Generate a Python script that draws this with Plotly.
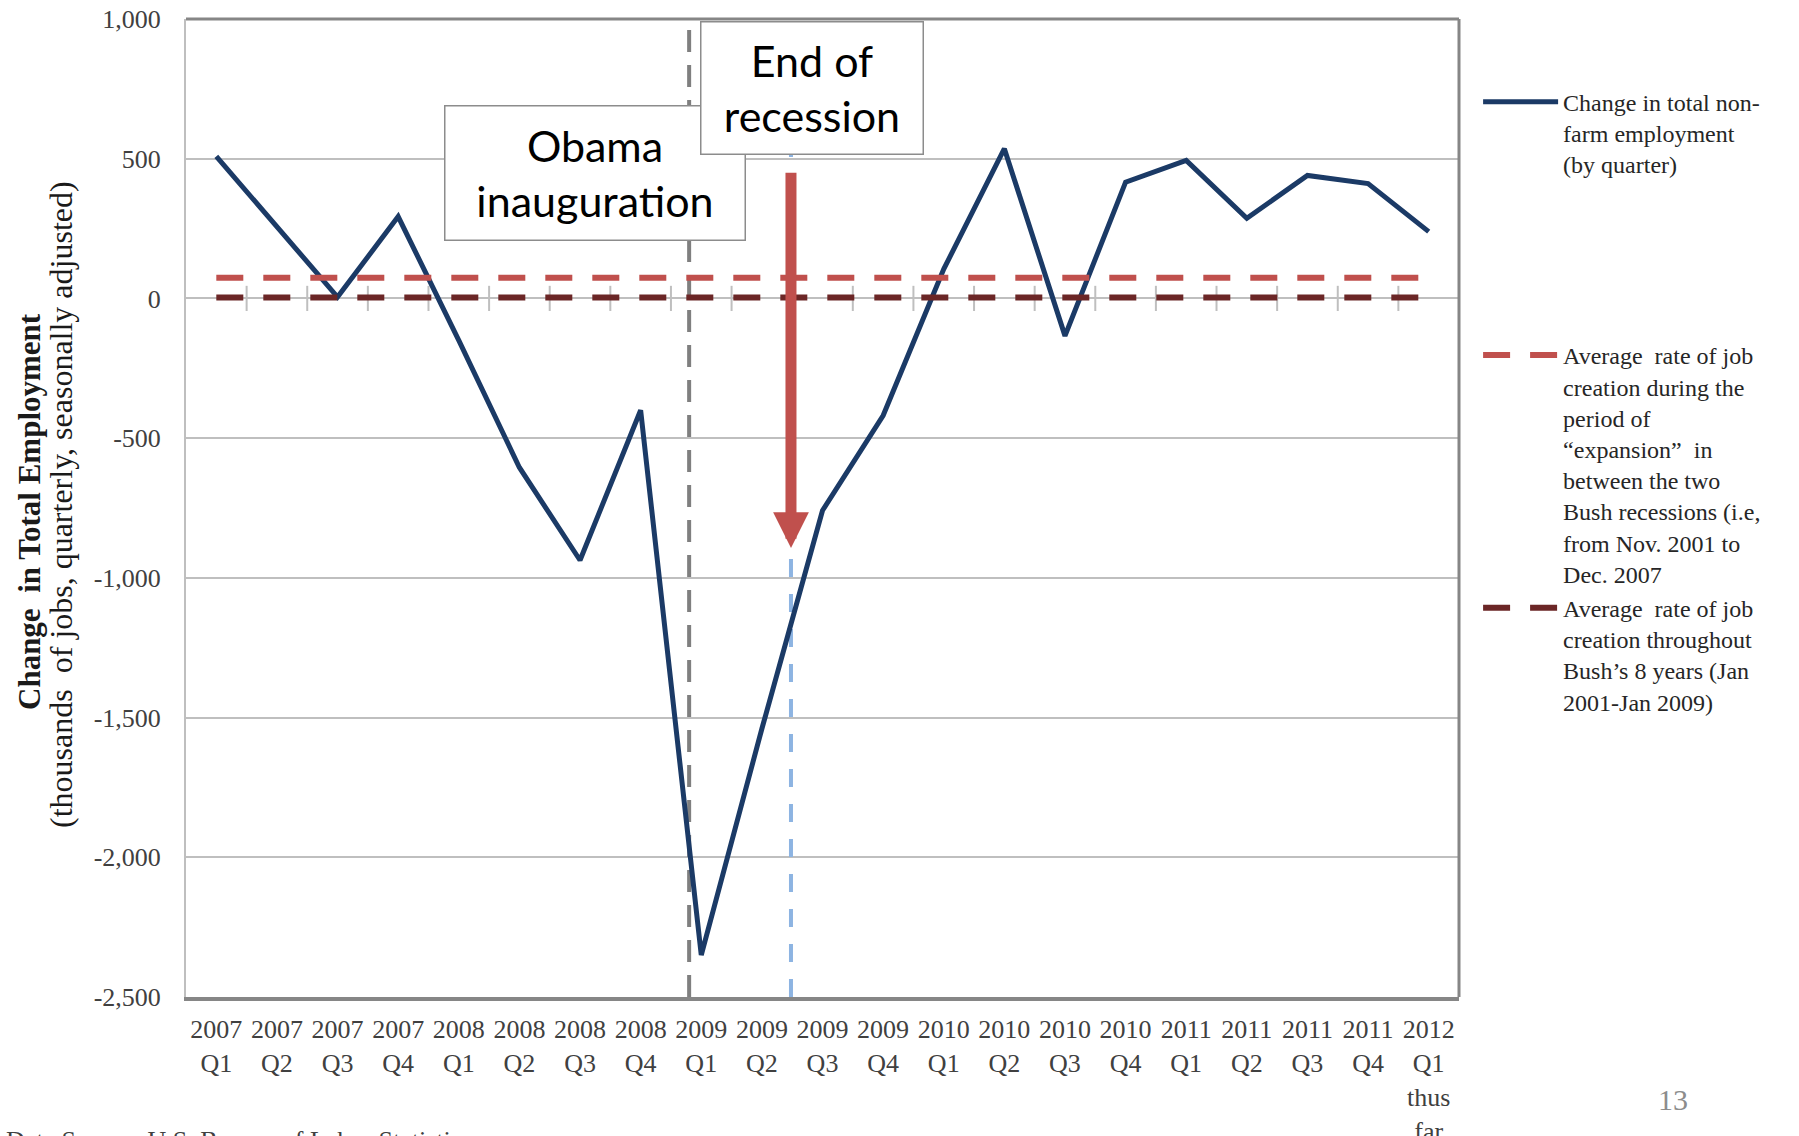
import numpy as np
import plotly.graph_objects as go

# ---------------- data ----------------
x_labels = ["2007<br>Q1", "2007<br>Q2", "2007<br>Q3", "2007<br>Q4",
            "2008<br>Q1", "2008<br>Q2", "2008<br>Q3", "2008<br>Q4",
            "2009<br>Q1", "2009<br>Q2", "2009<br>Q3", "2009<br>Q4",
            "2010<br>Q1", "2010<br>Q2", "2010<br>Q3", "2010<br>Q4",
            "2011<br>Q1", "2011<br>Q2", "2011<br>Q3", "2011<br>Q4",
            "2012<br>Q1<br>thus<br>far"]
jobs_change = [508, 255, 5, 293, -150, -605, -937, -400, -2350, -1540,
               -759, -419, 105, 536, -134, 416, 494, 287, 440, 411, 239]
expansion_avg = 74      # Nov 2001 - Dec 2007 average
bush_avg = 3            # Jan 2001 - Jan 2009 average

y_ticks = [1000, 500, 0, -500, -1000, -1500, -2000, -2500]
y_ticklabels = ["1,000", "500", "0", "-500", "-1,000", "-1,500", "-2,000", "-2,500"]

obama_pos = 7.8          # position of inauguration (in quarter index units)
recession_end_pos = 9.48 # position of end of recession
arrow_from, arrow_to = 455, -893

name_jobs = "Change in total non-<br>farm employment<br>(by quarter)"
name_exp = ("Average  rate of job<br>creation during the<br>period of<br>“expansion”  in<br>"
            "between the two<br>Bush recessions (i.e,<br>from Nov. 2001 to<br>Dec. 2007")
name_bush = "Average  rate of job<br>creation throughout<br>Bush’s 8 years (Jan<br>2001-Jan 2009)"

# ---------------- figure ----------------
idx = np.arange(len(x_labels))
y_min, y_max = min(y_ticks), max(y_ticks)
SERIF = "Liberation Serif"

# plot-area geometry in pixels
W, H = 1799, 1136
ML, MR, MT, MB = 186, 340, 19, 139
PW, PH = W - ML - MR, H - MT - MB


def px_x(px):
    return (px - ML) / PW


def px_y(py):
    return (H - MB - py) / PH


fig = go.Figure()

# vertical event lines
fig.add_trace(go.Scatter(x=[obama_pos, obama_pos], y=[y_min, y_max], mode="lines",
                         line=dict(color="#7F7F7F", width=4, dash="22px,13px"),
                         showlegend=False, hoverinfo="skip"))
fig.add_trace(go.Scatter(x=[recession_end_pos, recession_end_pos], y=[y_min, y_max], mode="lines",
                         line=dict(color="#8DB4E2", width=4, dash="18px,17px"),
                         showlegend=False, hoverinfo="skip"))
# small tick marks along the zero line (category boundaries)
fig.add_trace(go.Scatter(x=idx[:-1] + 0.5, y=[0] * (len(idx) - 1), mode="markers",
                         marker=dict(symbol="line-ns", size=18, line=dict(width=2, color="#BFBFBF")),
                         showlegend=False, hoverinfo="skip"))

# main series
fig.add_trace(go.Scatter(x=idx, y=jobs_change, mode="lines", name=name_jobs,
                         line=dict(color="#1B3A66", width=5), legend="legend"))
fig.add_trace(go.Scatter(x=idx, y=[expansion_avg] * len(idx), mode="lines", name=name_exp,
                         line=dict(color="#C0504D", width=6, dash="27px,20px"), legend="legend2"))
fig.add_trace(go.Scatter(x=idx, y=[bush_avg] * len(idx), mode="lines", name=name_bush,
                         line=dict(color="#6B2626", width=6, dash="27px,20px"), legend="legend2"))

tickfont = dict(family=SERIF, size=26, color="#404040")
legfont = dict(family=SERIF, size=24, color="#262626")

fig.update_layout(
    width=W, height=H,
    margin=dict(l=ML, r=MR, t=MT, b=MB, autoexpand=False),
    paper_bgcolor="white", plot_bgcolor="white",
    xaxis=dict(range=[-0.5, len(idx) - 0.5], tickvals=idx.tolist(), ticktext=x_labels,
               showgrid=False, zeroline=False, showline=True, linecolor="#868686", linewidth=4,
               ticks="", tickfont=tickfont, ticklabelstandoff=6, automargin=False, fixedrange=True),
    yaxis=dict(range=[y_min, y_max], tickvals=y_ticks, ticktext=y_ticklabels,
               showgrid=True, gridcolor="#BFBFBF", gridwidth=2,
               zeroline=True, zerolinecolor="#BFBFBF", zerolinewidth=2,
               showline=True, linecolor="#BFBFBF", linewidth=2,
               ticks="", tickfont=tickfont, ticklabelstandoff=18, automargin=False, fixedrange=True),
    legend=dict(x=1.015, y=0.938, xanchor="left", yanchor="top", font=legfont,
                itemwidth=75, valign="top", bgcolor="rgba(0,0,0,0)", tracegroupgap=0),
    legend2=dict(x=1.015, y=0.679, xanchor="left", yanchor="top", font=legfont,
                 itemwidth=75, valign="top", bgcolor="rgba(0,0,0,0)", tracegroupgap=0),
    showlegend=True,
    shapes=[
        dict(type="line", xref="x domain", yref="y domain", x0=0, x1=1, y0=1, y1=1,
             line=dict(color="#868686", width=3)),
        dict(type="line", xref="x domain", yref="y domain", x0=1, x1=1, y0=0, y1=1,
             line=dict(color="#868686", width=3)),
    ],
)

# y-axis title (two separately placed lines)
fig.add_annotation(xref="paper", yref="paper", x=px_x(29), y=px_y(512),
                   xanchor="center", yanchor="middle", textangle=-90, showarrow=False,
                   text="<b>Change  in Total Employment</b>",
                   font=dict(family=SERIF, size=31, color="#1a1a1a"))
fig.add_annotation(xref="paper", yref="paper", x=px_x(61), y=px_y(505),
                   xanchor="center", yanchor="middle", textangle=-90, showarrow=False,
                   text="(thousands  of jobs, quarterly, seasonally adjusted)",
                   font=dict(family=SERIF, size=32, color="#1a1a1a"))

# text boxes and arrow
fig.add_annotation(x=6.25, y=450, xref="x", yref="y", showarrow=False,
                   text="Obama<br>inauguration", font=dict(family="Lato", size=43, color="black"),
                   bgcolor="white", bordercolor="#8C8C8C", borderwidth=1.5, borderpad=0,
                   width=299, height=133)
fig.add_annotation(x=9.82, y=754, xref="x", yref="y", showarrow=False,
                   text="End of<br>recession", font=dict(family="Lato", size=43, color="black"),
                   bgcolor="white", bordercolor="#8C8C8C", borderwidth=1.5, borderpad=0,
                   width=221, height=131)
fig.add_annotation(x=recession_end_pos, y=arrow_to, ax=recession_end_pos, ay=arrow_from,
                   xref="x", yref="y", axref="x", ayref="y", text="", showarrow=True,
                   arrowhead=2, arrowwidth=11, arrowsize=0.65, arrowcolor="#C0504D", standoff=0)

# footer texts (the source line sits at the bottom edge, mostly cut off as in the original)
fig.add_annotation(xref="paper", yref="paper", x=px_x(4), y=px_y(1124),
                   xanchor="left", yanchor="top", showarrow=False,
                   text="Data Source: U.S. Bureau of Labor Statistics",
                   font=dict(family=SERIF, size=26, color="#404040"))
fig.add_annotation(xref="paper", yref="paper", x=px_x(1673), y=px_y(1099),
                   xanchor="center", yanchor="middle", showarrow=False, text="13",
                   font=dict(family=SERIF, size=30, color="#8C8C8C"))

fig.write_html("out.html")
